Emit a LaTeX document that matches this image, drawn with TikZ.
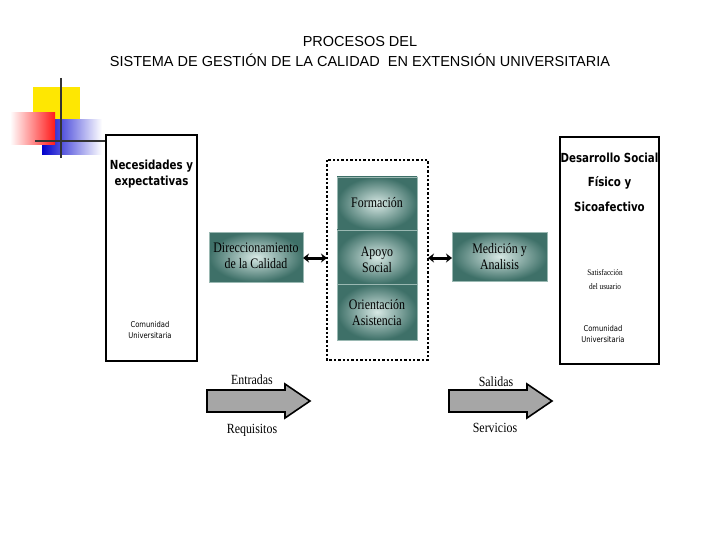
\documentclass[tikz,border=0pt]{standalone}
\usepackage{fontspec}
\usetikzlibrary{arrows.meta}
\setmainfont{Liberation Serif}
\newfontfamily\arial{Liberation Sans}
\newfontfamily\gothic{DejaVu Sans}
\definecolor{tealdk}{RGB}{62,112,104}
\definecolor{teallt}{RGB}{215,232,228}
\begin{document}
\begin{tikzpicture}[x=1pt,y=-1pt,
  tealbox/.style={draw=teallt!60!tealdk,line width=0.6pt,inner color=teallt,outer color=tealdk,shading=radial},
  tealtxt/.style={font=\fontsize{14.5}{16}\selectfont,text=black,align=center,xscale=0.82},
  thickbox/.style={draw=black,line width=2.2pt,fill=white},
  gtxt/.style={font=\gothic\fontsize{12.5}{16}\selectfont\bfseries,align=center,xscale=0.82},
  gsmall/.style={font=\gothic\fontsize{8}{10.5}\selectfont,align=center,xscale=0.85},
  dbl/.style={line width=3pt,{Stealth[length=6pt,width=9pt]}-{Stealth[length=6pt,width=9pt]}},
  blockarrow/.style={draw=black,line width=1.6pt,fill=gray!70},
  lbl/.style={font=\fontsize{14}{16}\selectfont,xscale=0.85}]
\useasboundingbox (0,0) rectangle (720,540);
% title
\node[font=\arial\fontsize{14.5}{20}\selectfont,align=center] (title) at (360,52) {PROCESOS DEL\\SISTEMA DE GESTIÓN DE LA CALIDAD\ \ EN EXTENSIÓN UNIVERSITARIA};
% decoration
\fill[yellow!90!orange] (33,87) rectangle (80,125);
\shade[left color=blue!80!black,right color=white] (42,120) rectangle (102,155);
\shade[left color=white,right color=red!90] (10,113) rectangle (55,145);
\draw[line width=1.5pt,black!80] (61,78) -- (61,158);
\draw[line width=1.5pt,black!80] (35,141) -- (105,141);
% left box
\draw[thickbox] (106,135) rectangle (197,361);
\node[gtxt] (nec) at (151.5,174) {Necesidades y\\expectativas};
\node[gsmall] (com1) at (150,330) {Comunidad\\Universitaria};
% direccionamiento
\shade[tealbox] (209,232) rectangle (303,282);
\node[tealtxt] (dir) at (256,256) {Direccionamiento\\de la Calidad};
% dotted box
\draw[line width=2.4pt,dotted] (327,160) rectangle (428,360);
\coordinate (dotL) at (327,258);
\coordinate (dotR) at (428,258);
\shade[tealbox] (337,177) rectangle (417,230);
\shade[tealbox] (337,230) rectangle (417,284);
\shade[tealbox] (337,284) rectangle (417,340);
\draw[teallt!60!tealdk,line width=0.6pt] (337,230) -- (417,230) (337,284) -- (417,284);
\node[tealtxt] (form) at (377,203) {Formación};
\node[tealtxt] (apoyo) at (377,260) {Apoyo\\Social};
\node[tealtxt] (ori) at (377,313) {Orientación\\Asistencia};
% medicion
\shade[tealbox] (452,232) rectangle (547,281);
\node[tealtxt] (med) at (499.5,257) {Medición y\\Analisis};
\coordinate (dirR) at (303,258);
\coordinate (medL) at (452,258);
\draw[dbl] (dirR) -- (dotL);
\draw[dbl] (dotR) -- (medL);
% right box
\draw[thickbox] (560,137) rectangle (659,364);
\node[gtxt,font=\gothic\fontsize{12.5}{24.5}\selectfont\bfseries] (des) at (609.5,182) {Desarrollo Social\\Físico y\\Sicoafectivo};
\node[font=\fontsize{8.5}{14}\selectfont,align=center,xscale=0.85] (sat) at (605,280) {Satisfacción\\del usuario};
\node[gsmall] (com2) at (603,334) {Comunidad\\Universitaria};
% block arrows
\draw[blockarrow] (207,390) -- (285,390) -- (285,384) -- (310,401) -- (285,418) -- (285,412) -- (207,412) -- cycle;
\node[lbl] (ent) at (252,380) {Entradas};
\node[lbl] (req) at (252,430) {Requisitos};
\draw[blockarrow] (449,390) -- (527,390) -- (527,384) -- (552,401) -- (527,418) -- (527,412) -- (449,412) -- cycle;
\node[lbl] (sal) at (496,382) {Salidas};
\node[lbl] (ser) at (495,428) {Servicios};
\end{tikzpicture}
\end{document}
